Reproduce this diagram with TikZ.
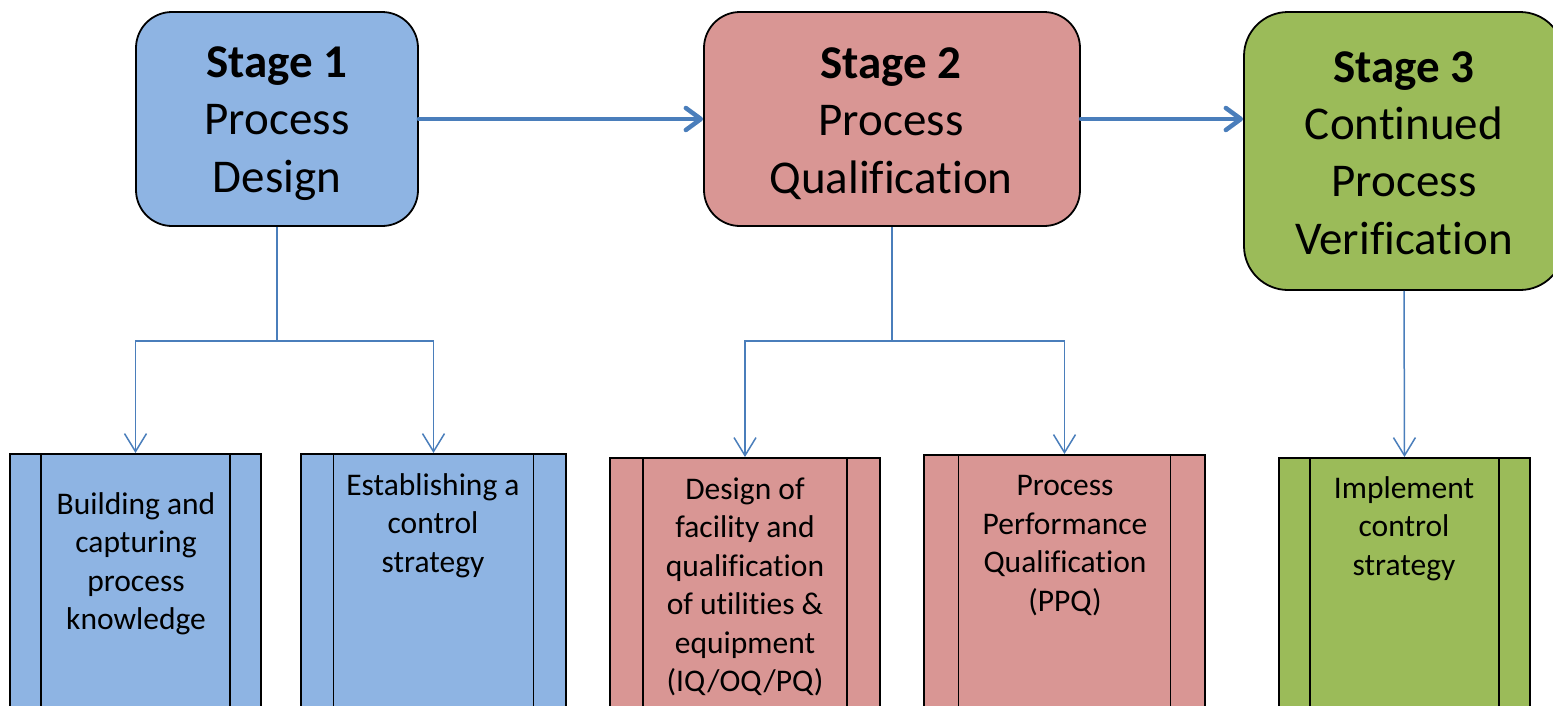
\documentclass[tikz,border=0pt]{standalone}
\usepackage{fontspec}
\setmainfont{Carlito}[Ligatures=NoCommon]
\usetikzlibrary{arrows.meta,calc}
\definecolor{stageblue}{RGB}{142,180,227}
\definecolor{stagered}{RGB}{217,150,148}
\definecolor{stagegreen}{RGB}{155,187,89}
\definecolor{linkblue}{RGB}{74,126,187}
\tikzset{
  stagebox/.style={draw=black, line width=1.8pt, rounded corners=36pt, inner sep=0pt},
  stagetext/.style={align=center, inner sep=0pt, font=\fontsize{47}{57.3}\selectfont},
  procbox/.style={draw=black, line width=1.8pt, anchor=north, inner sep=0pt,
    minimum height=330pt},
  proctext/.style={align=center, inner sep=0pt, font=\fontsize{31.5}{38.5}\selectfont},
  bigarrow/.style={draw=linkblue, line width=4.5pt, line cap=round,
    -{Straight Barb[length=15pt,width=22pt,line cap=round,line join=round]}},
  branch/.style={draw=linkblue, line width=1.5pt},
  brancharrow/.style={branch, -{Straight Barb[length=18pt,width=22pt]}},
}
\begin{document}
\begin{tikzpicture}[x=1pt,y=-1pt]
\useasboundingbox (0,0) rectangle (1553,705);
\clip (0,0) rectangle (1553,705);

% stage boxes
\node[stagebox, fill=stageblue, minimum width=282pt, minimum height=214pt] (s1) at (277,119) {};
\node[stagebox, fill=stagered, minimum width=376pt, minimum height=214pt] (s2) at (892,119) {};
\node[stagebox, fill=stagegreen, rounded corners=44pt, minimum width=320pt, minimum height=278pt] (s3) at (1404,151) {};
\node[stagetext] (l1) at (277,123.5) {\textbf{Stage 1}\\Process\\Design};
\node[stagetext] (l2) at (891,123.5) {\textbf{Stage 2}\\Process\\Qualification};
\node[stagetext] (l3) at (1404,153) {\textbf{Stage 3}\\Continued\\Process\\Verification};

% predefined-process boxes
\node[procbox, fill=stageblue,  minimum width=251pt] (b1) at (135.5,453) {};
\node[procbox, fill=stageblue,  minimum width=265pt] (b2) at (433.5,453) {};
\node[procbox, fill=stagered,   minimum width=270pt] (b3) at (745,457) {};
\node[procbox, fill=stagered,   minimum width=281pt] (b4) at (1064.5,454) {};
\node[procbox, fill=stagegreen, minimum width=251pt] (b5) at (1404.5,457) {};
\foreach \b in {b1,b2,b3,b4,b5}{
  \draw[line width=1.8pt] ($(\b.north west)!0.125!(\b.north east)$) -- ($(\b.south west)!0.125!(\b.south east)$);
  \draw[line width=1.8pt] ($(\b.north east)!0.125!(\b.north west)$) -- ($(\b.south east)!0.125!(\b.south west)$);
}

% box texts
\node[proctext] (t1) at (136,564) {Building and\\capturing\\process\\knowledge};
\node[proctext] (t2) at (433,525.5) {Establishing a\\control\\strategy};
\node[proctext] (t3) at (745,587) {Design of\\facility and\\qualification\\of utilities \&\\equipment\\(IQ/OQ/PQ)};
\node[proctext] (t4) at (1065,545.5) {Process\\Performance\\Qualification\\(PPQ)};
\node[proctext] (t5) at (1404,528.5) {Implement\\control\\strategy};

% main flow
\draw[bigarrow] (s1.east) -- (s2.west);
\draw[bigarrow] (s2.east) -- (s2.east -| s3.west);

% branches
\coordinate (j1) at ($(s1.south)+(0,114)$);
\coordinate (j2) at ($(s2.south)+(0,114)$);
\draw[branch] (s1.south) -- (j1);
\draw[brancharrow] (j1) -| (b1.north);
\draw[brancharrow] (j1) -| (b2.north);
\draw[branch] (s2.south) -- (j2);
\draw[brancharrow] (j2) -| (b3.north);
\draw[brancharrow] (j2) -| (b4.north);
\draw[brancharrow] (s3.south) -- (b5.north);
\end{tikzpicture}
\end{document}
